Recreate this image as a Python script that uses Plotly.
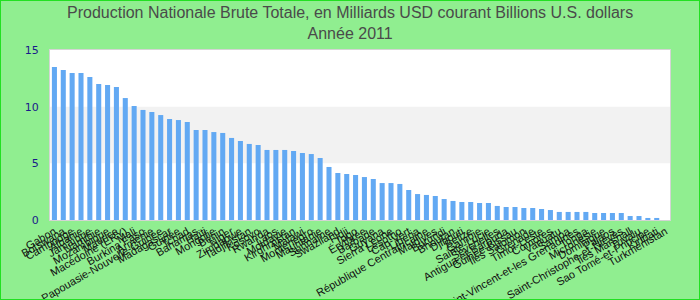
import plotly.graph_objects as go

countries = [
    "Gabon", "Botswana", "Cambodge", "Albanie", "Jamaïque", "Namibie", "Mozambique",
    "Maurice", "Macédoine (ERY)", "Mali", "Burkina Faso", "Arménie",
    "Papouasie-Nouvelle-Guinée", "Madagascar", "Guinée", "Tchad", "Bahamas", "Haïti",
    "Mongolie", "Bénin", "Niger", "Zimbabwe", "Tadjikistan", "Kosovo", "Rwanda", "Laos",
    "Moldavie", "Kirghizistan", "Malawi", "Monténégro", "Mauritanie", "Suriname",
    "Swaziland", "Fidji", "Togo", "Érythrée", "Barbade", "Guyana", "Sierra Leone",
    "Lesotho", "Cap-Vert", "Libéria", "République Centrafricaine", "Maldives", "Burundi",
    "Bhoutan", "Djibouti", "Belize", "Gambie", "Sainte-Lucie", "Seychelles",
    "Antigua-et-Barbuda", "Guinée-Bissau", "Îles Salomon", "Grenade", "Timor-Leste",
    "Comores", "Vanuatu", "Samoa", "Saint-Vincent-et-les Grenadines", "Tonga",
    "Micronésie", "Dominique", "Palaos", "Saint-Christophe-et-Niévès", "Îles Marshall",
    "Tuvalu", "Sao Tomé-et-Principe", "Kiribati", "Turkménistan",
]

gni_2011 = [
    13.5, 13.24, 12.97, 12.97, 12.62, 12.0, 11.91, 11.74, 10.76, 10.06,
    9.71, 9.53, 9.26, 8.91, 8.82, 8.65, 7.94, 7.94, 7.76, 7.68,
    7.24, 6.97, 6.71, 6.62, 6.18, 6.18, 6.18, 6.09, 5.91, 5.82,
    5.47, 4.68, 4.15, 4.06, 3.97, 3.79, 3.62, 3.26, 3.26, 3.18,
    2.65, 2.29, 2.21, 2.12, 1.85, 1.68, 1.59, 1.59, 1.50, 1.50,
    1.24, 1.15, 1.15, 1.06, 1.06, 0.97, 0.88, 0.71, 0.71, 0.71,
    0.71, 0.62, 0.62, 0.62, 0.62, 0.35, 0.35, 0.18, 0.18, None,
]

y_ticks = [0, 5, 10, 15]
title_lines = ["Production Nationale Brute Totale, en Milliards USD courant Billions U.S. dollars",
               "Année 2011"]

W, H = 700, 300
ML, MR, MT, MB = 50, 30, 50, 80
pw, ph = W - ML - MR, H - MT - MB

fig = go.Figure()
fig.add_trace(go.Bar(
    x=countries, y=gni_2011,
    marker=dict(color="#62a9f3", line=dict(width=0)),
))

# alternating band 5-10
fig.add_shape(type="rect", xref="paper", yref="y", x0=0, x1=1, y0=5, y1=10,
              fillcolor="#f2f2f2", line=dict(width=0), layer="below")
# outer frame
fig.add_shape(type="rect", xref="paper", yref="paper",
              x0=-ML / pw, x1=1 + MR / pw, y0=-MB / ph, y1=1 + MT / ph,
              line=dict(color="#22e022", width=2), fillcolor="rgba(0,0,0,0)")

fig.add_annotation(
    text="<br>".join(title_lines), showarrow=False,
    xref="paper", yref="paper", x=(W / 2 - ML) / pw, xanchor="center",
    y=1 + (MT - 2) / ph, yanchor="top",
    font=dict(family="Liberation Sans, Arial", size=16, color="#4a4a4a"),
)

fig.update_layout(
    width=W, height=H,
    margin=dict(l=ML, r=MR, t=MT, b=MB, autoexpand=False),
    paper_bgcolor="#90ee90", plot_bgcolor="white",
    bargap=0.43, showlegend=False,
    xaxis=dict(type="category", tickmode="array", tickvals=countries, ticktext=countries,
               tickangle=-30, automargin=False, showgrid=False, zeroline=False,
               showline=True, mirror=True, linecolor="#d4d4d4", linewidth=1,
               ticks="", tickfont=dict(family="Liberation Sans, Arial", size=11, color="#111")),
    yaxis=dict(range=[0, 15], tickmode="array", tickvals=y_ticks, automargin=False,
               showgrid=False, zeroline=False, showline=True, mirror=True,
               linecolor="#d4d4d4", linewidth=1, ticks="outside", ticklen=8,
               tickcolor="rgba(0,0,0,0)",
               tickfont=dict(family="DejaVu Sans", size=11, color="#1a1a8a")),
)

fig.write_html("out.html")
